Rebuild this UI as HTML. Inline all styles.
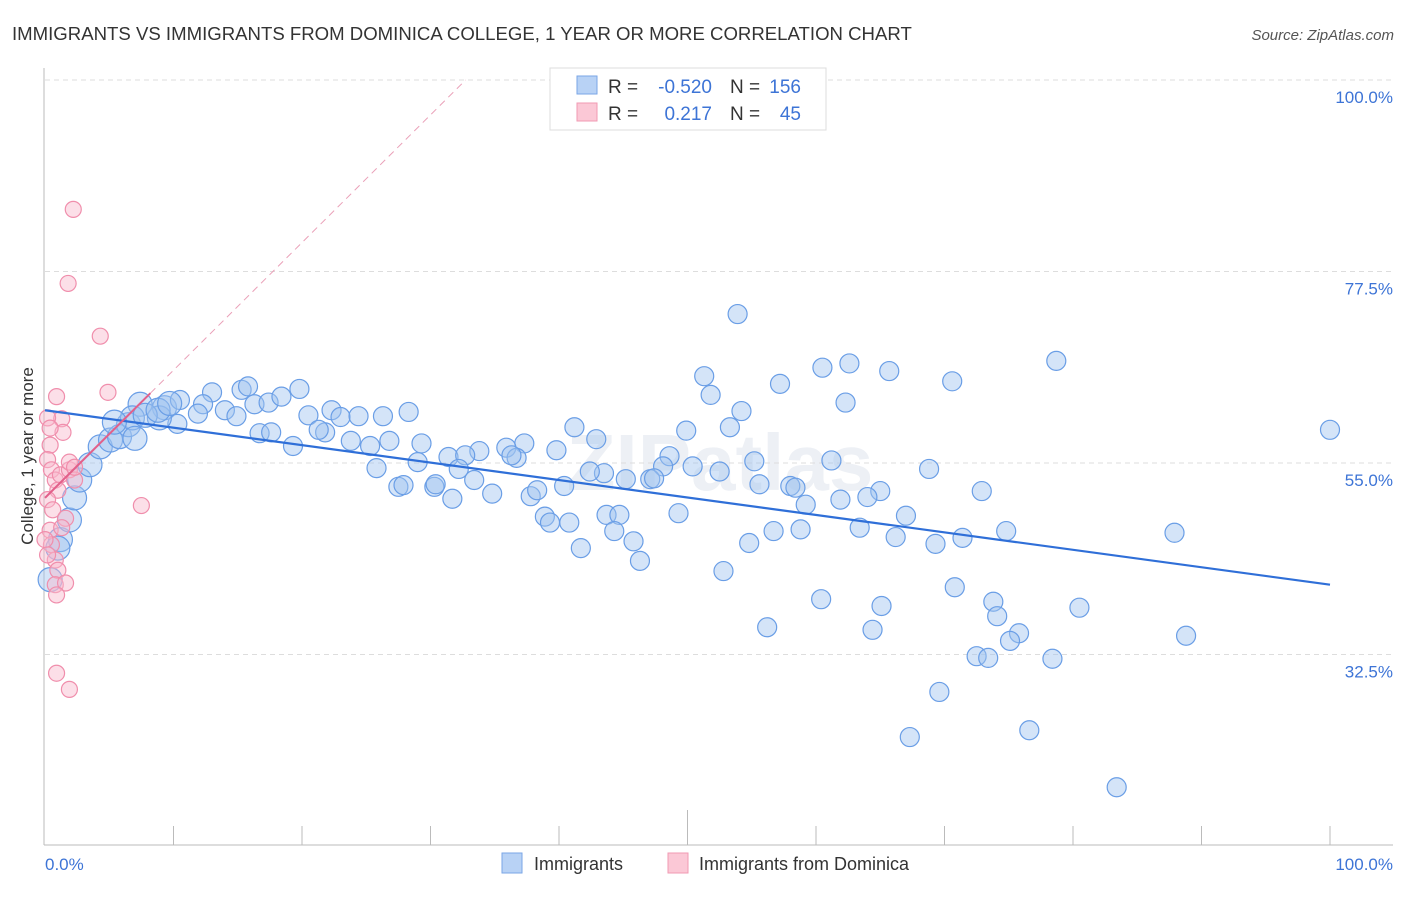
<!DOCTYPE html>
<html><head><meta charset="utf-8"><style>
body{margin:0;background:#fff;font-family:"Liberation Sans",sans-serif}
svg text{font-family:"Liberation Sans",sans-serif}
</style></head><body>
<svg id="chart" width="1406" height="892" viewBox="0 0 1406 892" xmlns="http://www.w3.org/2000/svg">
<text x="12" y="40" font-size="18.6" fill="#333">IMMIGRANTS VS IMMIGRANTS FROM DOMINICA COLLEGE, 1 YEAR OR MORE CORRELATION CHART</text>
<text x="1394" y="40" font-size="15" fill="#555" font-style="italic" text-anchor="end">Source: ZipAtlas.com</text>
<text x="720" y="490" font-size="80" font-weight="bold" fill="#edf0f5" text-anchor="middle">ZIPatlas</text>
<g id="grid"></g>
<line x1="44" y1="68" x2="44" y2="845" stroke="#bbb"/>
<line x1="44" y1="845" x2="1393" y2="845" stroke="#bbb"/>
<g id="xticks"></g>
<text transform="translate(33,456) rotate(-90)" font-size="17" fill="#333" text-anchor="middle">College, 1 year or more</text>
<text x="45" y="870" font-size="17" fill="#3d74d6">0.0%</text>
<text x="1393" y="870" font-size="17" fill="#3d74d6" text-anchor="end">100.0%</text>
<g id="points"></g>
<g id="lines"></g>
<g>
<rect x="550" y="68" width="276" height="62" fill="#fff" stroke="#ddd"/>
<rect x="577" y="76" width="20" height="18" fill="#b8d2f5" stroke="#7aa6e6"/>
<rect x="577" y="103" width="20" height="18" fill="#fbc8d6" stroke="#f09ab3"/>
<text x="608" y="93" font-size="19" fill="#333">R = </text><text x="712" y="93" font-size="19" fill="#3d74d6" text-anchor="end">-0.520</text>
<text x="730" y="93" font-size="19" fill="#333">N = </text><text x="801" y="93" font-size="19" fill="#3d74d6" text-anchor="end">156</text>
<text x="608" y="120" font-size="19" fill="#333">R = </text><text x="712" y="120" font-size="19" fill="#3d74d6" text-anchor="end">0.217</text>
<text x="730" y="120" font-size="19" fill="#333">N = </text><text x="801" y="120" font-size="19" fill="#3d74d6" text-anchor="end">45</text>
</g>
<g>
<rect x="502" y="853" width="20" height="20" fill="#b8d2f5" stroke="#7aa6e6"/>
<text x="534" y="870" font-size="18" fill="#333">Immigrants</text>
<rect x="668" y="853" width="20" height="20" fill="#fbc8d6" stroke="#f09ab3"/>
<text x="699" y="870" font-size="18" fill="#333">Immigrants from Dominica</text>
</g>
</svg>
<script>
const yTicks=[100,77.5,55,32.5];
const blueX=[53.9,78.7,60.5,62.6,65.7,51.3,70.6,57.2,51.8,62.3,54.2,53.3,49.9,42.9,41.2,100,39.8,37.3,35.9,33.8,36.7,36.3,48.6,48.1,55.2,61.2,50.4,52.5,43.5,42.4,45.2,47.1,47.4,55.6,58.0,58.4,65.0,64.0,61.9,59.2,68.8,72.9,67.0,49.3,43.7,44.7,38.9,40.8,39.3,41.7,44.3,45.8,46.3,52.8,54.8,56.7,58.8,63.4,66.2,69.3,71.4,74.8,87.9,70.8,73.8,74.1,80.5,60.4,65.1,56.2,64.4,75.8,75.1,88.8,72.5,73.4,78.4,69.6,67.3,76.6,83.4,
7.4,9.3,10.5,13.0,15.3,15.8,19.8,12.3,14.0,14.9,11.9,10.3,8.9,16.3,17.4,18.4,20.5,22.3,23.0,24.4,26.3,28.3,21.8,21.3,16.7,17.6,19.3,23.8,25.3,26.8,29.3,25.8,29.0,31.4,32.7,32.2,33.4,27.5,27.9,30.3,30.4,31.7,34.8,37.8,38.3,40.4,
1.2,1.9,2.3,2.7,3.5,4.3,5.1,5.8,6.5,6.8,7.8,8.8,9.7,0.4,1.0,5.4,7.0];
const blueY=[72.5,67.0,66.2,66.7,65.8,65.2,64.6,64.3,63.0,62.1,61.1,59.2,58.8,57.8,59.2,58.9,56.5,57.3,56.8,56.4,55.6,55.9,55.8,54.6,55.2,55.3,54.6,54.0,53.8,54.0,53.1,53.1,53.2,52.5,52.3,52.1,51.7,51.0,50.7,50.1,54.3,51.7,48.8,49.1,48.9,48.9,48.7,48.0,48.0,45.0,47.0,45.8,43.5,42.3,45.6,47.0,47.2,47.4,46.3,45.5,46.2,47.0,46.8,40.4,38.7,37.0,38.0,39.0,38.2,35.7,35.4,35.0,34.1,34.7,32.3,32.1,32.0,28.1,22.8,23.6,16.9,
61.9,61.5,62.4,63.3,63.6,64.0,63.7,61.9,61.2,60.5,60.8,59.6,60.3,61.9,62.1,62.8,60.6,61.2,60.4,60.5,60.5,61.0,58.6,58.9,58.5,58.6,57.0,57.6,57.0,57.6,57.3,54.4,55.1,55.7,55.9,54.3,53.0,52.2,52.4,52.2,52.5,50.8,51.4,51.1,51.8,52.3,
46.0,48.3,50.9,53.0,54.8,56.9,57.7,58.1,59.5,60.3,60.6,61.2,62.0,41.3,45.0,59.8,57.9];
const pinkX=[2.2,1.8,4.3,4.9,0.9,7.5,1.3,1.4,0.4,0.2,0.5,0.8,1.2,1.9,2.3,1.0,0.2,0.6,1.6,0.4,0.5,0.8,1.0,0.8,1.6,0.9,0.9,1.9,0.2,0.4,1.9,1.3,0,0.2,2.3];
const pinkY=[84.8,76.1,69.9,63.3,62.8,50.0,60.2,58.6,57.1,55.4,54.2,53.0,53.6,54.2,53.0,51.8,50.7,49.5,48.5,47.1,45.4,43.6,42.4,40.7,40.9,39.5,30.3,28.4,60.3,59.1,55.1,47.4,46.0,44.2,54.5];
const blueFit=[61.2,40.7];
const pinkFit=[50.9,1.5];
const NS='http://www.w3.org/2000/svg';
const sx=v=>45+v*12.85, sy=v=>80+(100-v)*8.511;
function mk(t,a,p){const e=document.createElementNS(NS,t);for(const k in a)e.setAttribute(k,a[k]);p.appendChild(e);return e;}
const grid=document.getElementById('grid');
yTicks.forEach(t=>{
 const l=mk('line',{x1:45,x2:1393,y1:sy(t),y2:sy(t),stroke:'#ddd','stroke-dasharray':'5,4'},grid);
 
 
 const tx=mk('text',{x:1393,y:sy(t)+23,'font-size':17,fill:'#3d74d6','text-anchor':'end'},grid);
 tx.textContent=t.toFixed(1)+'%';
 
 
});
const xt=document.getElementById('xticks');
for(let i=1;i<=10;i++){const x=sx(i*10);const l=mk('line',{x1:x,x2:x,y1:i==5?810:826,y2:845,stroke:'#bbb'},xt);
 
 }
const pts=document.getElementById('points');
blueX.forEach((x,i)=>{const c=mk('circle',{cx:sx(x),cy:sy(blueY[i]),r:x<10?12:9.5,fill:'rgba(160,195,240,0.45)',stroke:'#6a9ee6','stroke-width':1.2},pts);
 
 });
pinkX.forEach((x,i)=>{const c=mk('circle',{cx:sx(x),cy:sy(pinkY[i]),r:8,fill:'rgba(248,185,205,0.45)',stroke:'#f08eac','stroke-width':1.2},pts);
 
 });
const ln=document.getElementById('lines');
const b=mk('line',{x1:sx(0),y1:sy(blueFit[0]),x2:sx(100),y2:sy(blueFit[1]),stroke:'#2f6fd8','stroke-width':2.2},ln);


const xEnd=(100-pinkFit[0])/pinkFit[1];
const pd=mk('line',{x1:sx(8.2),y1:sy(pinkFit[0]+pinkFit[1]*8.2),x2:sx(xEnd),y2:sy(100),stroke:'#eaa0b8','stroke-width':1,'stroke-dasharray':'7,5'},ln);


const p=mk('line',{x1:sx(0),y1:sy(pinkFit[0]),x2:sx(8.2),y2:sy(pinkFit[0]+pinkFit[1]*8.2),stroke:'#e2608a','stroke-width':2},ln);


</script>
</body></html>
